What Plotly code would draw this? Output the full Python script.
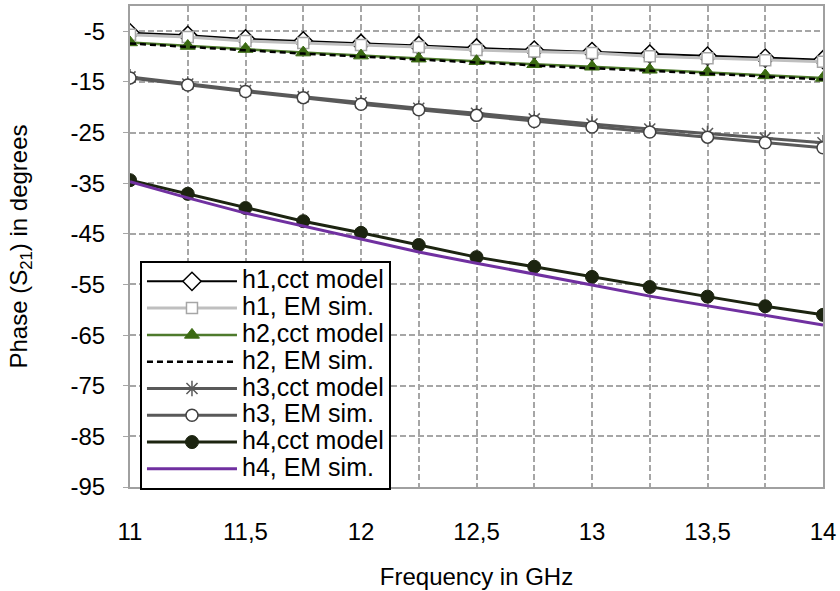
import plotly.graph_objects as go

freq = [11, 11.25, 11.5, 11.75, 12, 12.25, 12.5, 12.75, 13, 13.25, 13.5, 13.75, 14]

h1_cct = [-5.3, -5.8, -6.5, -6.9, -7.4, -7.8, -8.3, -8.7, -9.0, -9.5, -9.9, -10.3, -10.6]
h1_em = [-5.7, -6.1, -6.9, -7.3, -7.7, -8.1, -8.7, -9.0, -9.3, -9.9, -10.3, -10.7, -11.0]
h2_cct = [-7.2, -7.9, -8.5, -9.2, -9.8, -10.4, -10.9, -11.5, -12.0, -12.6, -13.1, -13.7, -14.2]
h2_em = [-7.4, -8.1, -8.8, -9.4, -10.0, -10.6, -11.2, -11.7, -12.3, -12.8, -13.4, -14.0, -14.5]
h3_cct = [-14.0, -15.4, -16.7, -17.9, -19.1, -20.2, -21.2, -22.3, -23.3, -24.3, -25.2, -26.1, -27.0]
h3_em = [-14.2, -15.6, -16.9, -18.1, -19.4, -20.5, -21.6, -22.8, -23.9, -24.9, -25.9, -27.0, -28.0]
h4_cct = [-34.4, -37.1, -39.9, -42.5, -44.8, -47.2, -49.6, -51.5, -53.5, -55.5, -57.4, -59.3, -61.0]
h4_em = [-34.7, -37.9, -40.9, -43.5, -46.0, -48.6, -50.8, -52.9, -55.1, -57.3, -59.2, -61.0, -63.0]

names = ["h1,cct model", "h1, EM sim.", "h2,cct model", "h2, EM sim.",
         "h3,cct model", "h3, EM sim.", "h4,cct model", "h4, EM sim."]

y_ticks = [-95, -85, -75, -65, -55, -45, -35, -25, -15, -5]
y_labels = ["-95", "-85", "-75", "-65", "-55", "-45", "-35", "-25", "-15", "-5"]
x_ticks = [11, 11.5, 12, 12.5, 13, 13.5, 14]
x_labels = ["11", "11,5", "12", "12,5", "13", "13,5", "14"]


def big(t):
    return '<span style="font-size:25px">%s</span>' % t


fig = go.Figure()

fig.add_trace(go.Scatter(x=freq, y=h1_cct, name=big(names[0]), mode="lines+markers",
                         line=dict(color="#000000", width=2),
                         marker=dict(symbol="diamond", size=14, color="#ffffff",
                                     line=dict(color="#000000", width=1.5))))
fig.add_trace(go.Scatter(x=freq, y=h1_em, name=big(names[1]), mode="lines+markers",
                         line=dict(color="#bfbfbf", width=3),
                         marker=dict(symbol="square", size=11, color="#ffffff",
                                     line=dict(color="#a6a6a6", width=1.5))))
fig.add_trace(go.Scatter(x=freq, y=h2_cct, name=big(names[2]), mode="lines+markers",
                         line=dict(color="#4e7a2c", width=2.5),
                         marker=dict(symbol="triangle-up", size=13, color="#3b6a12",
                                     line=dict(color="#3b6a12", width=1))))
fig.add_trace(go.Scatter(x=freq, y=h2_em, name=big(names[3]), mode="lines",
                         line=dict(color="#000000", width=2.5, dash="6px,4px")))
fig.add_trace(go.Scatter(x=freq, y=h3_cct, name=big(names[4]), mode="lines+markers",
                         line=dict(color="#595959", width=3),
                         marker=dict(symbol="asterisk-open", size=13, color="#595959",
                                     line=dict(color="#595959", width=1.5))))
fig.add_trace(go.Scatter(x=freq, y=h3_em, name=big(names[5]), mode="lines+markers",
                         line=dict(color="#595959", width=3),
                         marker=dict(symbol="circle", size=12, color="#ffffff",
                                     line=dict(color="#404040", width=1.5))))
fig.add_trace(go.Scatter(x=freq, y=h4_cct, name=big(names[6]), mode="lines+markers",
                         line=dict(color="#1c2410", width=3),
                         marker=dict(symbol="circle", size=13, color="#1c2410",
                                     line=dict(color="#1c2410", width=1))))
fig.add_trace(go.Scatter(x=freq, y=h4_em, name=big(names[7]), mode="lines",
                         line=dict(color="#7030a0", width=3)))

font = "Liberation Sans, Arial, sans-serif"
grid_col = "#a6a6a6"

fig.update_layout(
    width=840, height=591,
    margin=dict(l=130, r=17, t=6, b=104, autoexpand=False),
    paper_bgcolor="#ffffff", plot_bgcolor="#ffffff",
    font=dict(family=font, size=24, color="#000000"),
    showlegend=True,
    legend=dict(x=0.0144, y=0.4700, xanchor="left", yanchor="top",
                bgcolor="#ffffff", bordercolor="#000000", borderwidth=2,
                font=dict(family=font, size=18.3, color="#000000"),
                itemwidth=90, tracegroupgap=0, traceorder="normal"),
)

fig.update_xaxes(
    range=[11, 14], tickvals=x_ticks, ticktext=x_labels,
    automargin=False,
    showgrid=True, gridcolor=grid_col, griddash="6px,3px", gridwidth=1.5,
    minor=dict(dtick=0.25, showgrid=True, gridcolor=grid_col, griddash="6px,3px",
               gridwidth=1.5),
    ticks="outside", ticklen=22, tickcolor="rgba(0,0,0,0)",
    tickfont=dict(size=24),
    showline=True, linecolor="#a0a0a0", linewidth=2, mirror=True,
    zeroline=False,
    title=dict(text="Frequency in GHz", standoff=24, font=dict(size=24)),
)
fig.update_yaxes(
    range=[-95, 0], tickvals=y_ticks, ticktext=y_labels, automargin=False,
    showgrid=True, gridcolor=grid_col, griddash="6px,3px", gridwidth=1.5,
    ticks="outside", ticklen=5, tickcolor=grid_col,
    tickfont=dict(size=24),
    showline=True, linecolor="#a0a0a0", linewidth=2, mirror=True,
    zeroline=False, ticklabelstandoff=13,
    title=dict(text="Phase (S<sub>21</sub>) in degrees", standoff=36, font=dict(size=24)),
)

fig.write_html("out.html", config={"displayModeBar": False},
               post_script="document.body.style.margin='0';document.body.style.padding='0';")
